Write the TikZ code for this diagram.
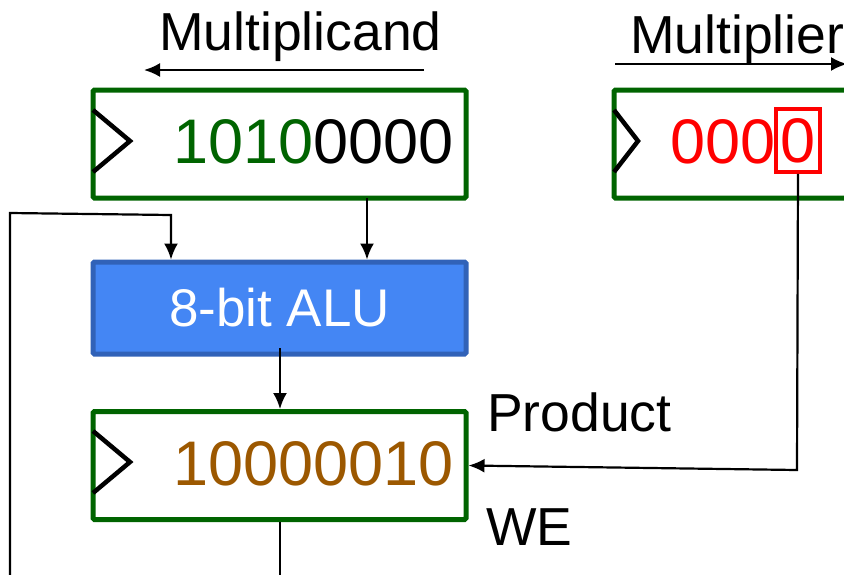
\documentclass[tikz,border=0pt]{standalone}
\usepackage{fontspec}
\setmainfont{Liberation Sans}
\usetikzlibrary{arrows.meta}
\definecolor{regGreen}{HTML}{006400}
\definecolor{aluFill}{HTML}{4486F4}
\definecolor{aluEdge}{HTML}{3162B8}
\definecolor{prodBrown}{HTML}{9C5800}
\begin{document}
\begin{tikzpicture}[x=1pt,y=-1pt,
  regbox/.style={draw=regGreen, line width=5pt, rounded corners=1.5pt, fill=white,
    minimum width=373pt, minimum height=108pt, inner sep=0pt},
  alubox/.style={draw=aluEdge, fill=aluFill, line width=5pt, rounded corners=1.5pt,
    minimum width=373pt, minimum height=92pt, inner sep=0pt,
    text=white, font=\fontsize{53}{60}\selectfont},
  clk/.style={draw=black, line width=4.5pt, line join=miter},
  wire/.style={draw=black, line width=2.2pt},
  arr/.style={wire, -{Latex[length=16pt,width=14pt]}},
  lbl/.style={inner sep=0pt, font=\fontsize{53.5}{60}\selectfont},
  bits/.style={inner sep=0pt, font=\fontsize{63}{72}\selectfont}]
\useasboundingbox (0,0) rectangle (844,574);

% registers and ALU
\node[regbox] (mcand) at (279.5,144) {};
\draw[draw=regGreen, line width=5pt, rounded corners=1.5pt, fill=white]
  (614,90) rectangle (852,198);
\node[alubox] (alu) at (279.5,308) {8-bit ALU};
\node[regbox] (prod) at (279.5,465.5) {};

% clock inputs
\draw[clk] (93,110) -- (130,141) -- (93,172);
\draw[clk] (614,110) -- (638,141) -- (614,172);
\draw[clk] (93,431) -- (130,462) -- (93,493);

% register contents
\node[bits, anchor=base east] (mcandval) at (454,163)
  {\textcolor{regGreen}{1010}0000};
\node[bits, text=red, draw=red, line width=3.5pt, minimum width=44pt,
  minimum height=63pt] (lsb) at (798,140.5) {0};
\node[bits, text=red, anchor=base east] (mhigh) at (776,163) {000};
\node[bits, text=prodBrown, anchor=base east] (prodval) at (454,485) {10000010};

% labels
\node[lbl, anchor=base west] (lmcand) at (159,50) {Multiplicand};
\node[lbl, anchor=base west] (lmplier) at (630,53) {Multiplier};
\node[lbl, anchor=base west] (lprod) at (487,431) {Product};
\node[lbl, anchor=base west] (lwe) at (486,545) {WE};

% shift direction arrows
\coordinate (ma0) at (424,70);
\coordinate (ma1) at (144,70);
\draw[arr] (ma0) -- (ma1);
\coordinate (mr0) at (615,64);
\coordinate (mr1) at (847,64);
\draw[arr] (mr0) -- (mr1);

% datapath connections
\coordinate (mc) at (367,198);
\draw[arr] (mc) -- (alu.north -| mc);
\coordinate (fb0) at (10,578);
\coordinate (fb1) at (10,213);
\coordinate (fb2) at (171,215);
\draw[arr] (fb0) -- (fb1) -- (fb2) -- (alu.north -| fb2);
\coordinate (ao) at (280,348);
\draw[arr] (ao) -- (prod.north -| ao);
\coordinate (pc) at (797,470);
\draw[arr] (lsb.south) -- (pc) -- (prod.east);
\coordinate (po) at (280,578);
\draw[wire] (prod.south -| po) -- (po);
\end{tikzpicture}
\end{document}
